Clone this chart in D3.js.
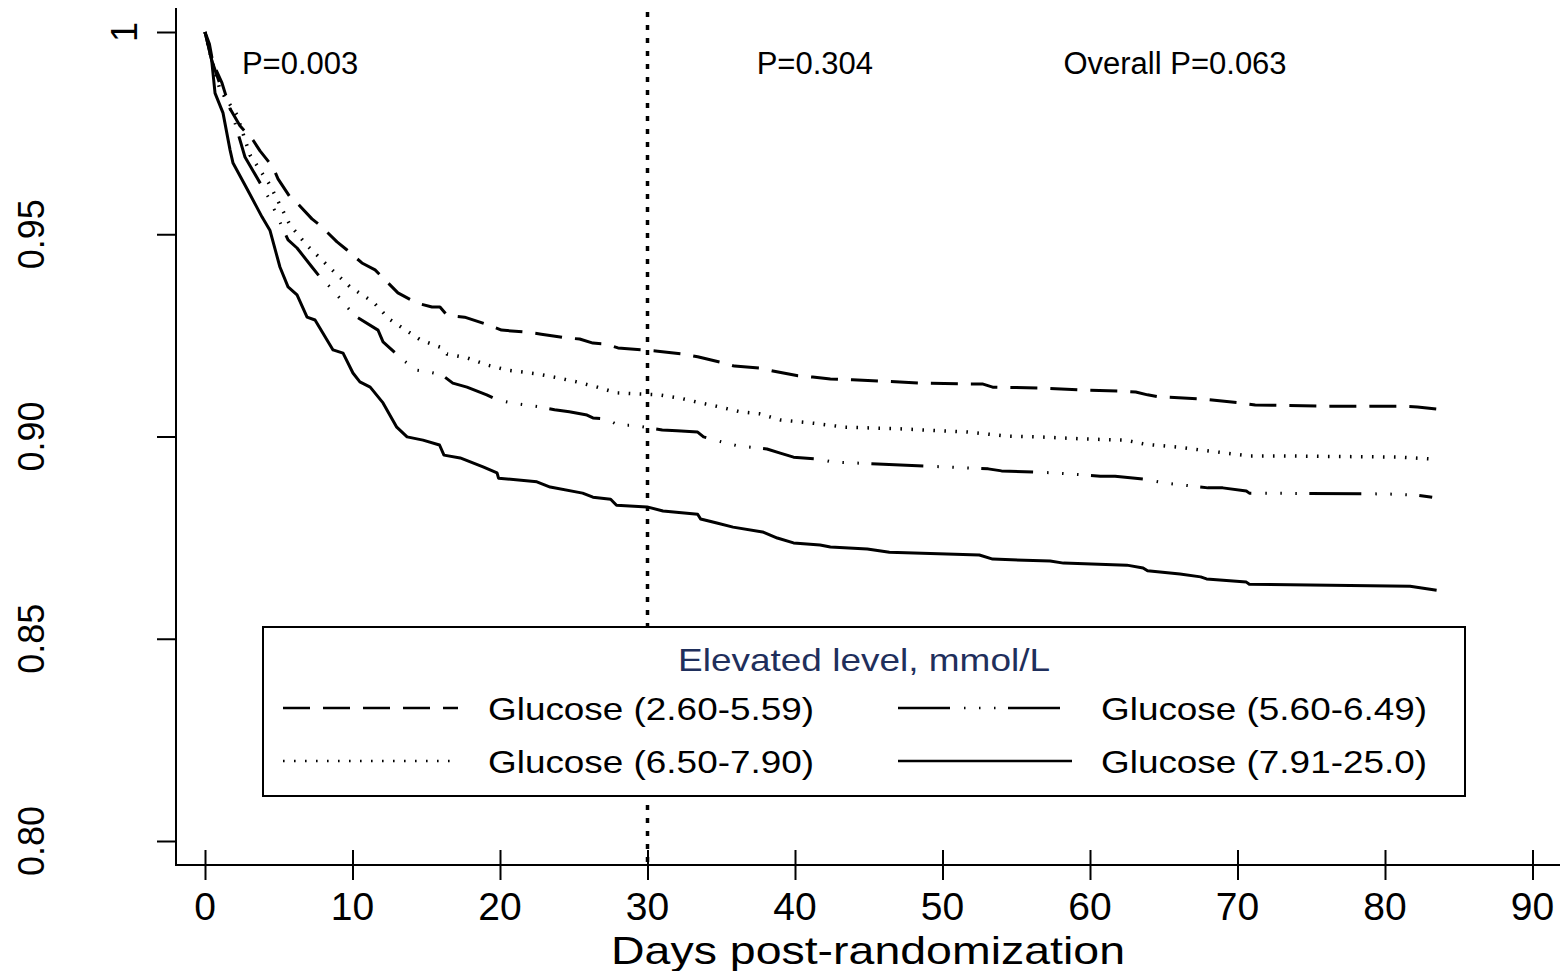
<!DOCTYPE html>
<html><head><meta charset="utf-8">
<script src="https://cdn.jsdelivr.net/npm/d3@7"></script>
<style>
html,body{margin:0;padding:0;background:#fff;}
text{font-family:"Liberation Sans",Arial,Helvetica,sans-serif;}
</style>
</head><body>
<svg id="chart" width="1566" height="971"></svg>
<script>
// ---- data ----
const xTicks = [0,10,20,30,40,50,60,70,80,90];
const yTicks = [0.80,0.85,0.90,0.95,1];
const yTickLabels = ["0.80","0.85","0.90","0.95","1"];
const pLabels = [{day:2.5,text:"P=0.003"},{day:37.4,text:"P=0.304"},{day:58.2,text:"Overall P=0.063"}];
const cutDay = 30;
const legendTitle = "Elevated level, mmol/L";
const seriesNames = ["Glucose (2.60-5.59)","Glucose (5.60-6.49)","Glucose (6.50-7.90)","Glucose (7.91-25.0)"];

// Glucose 2.60-5.59 (dashed)
const g1Days = [0,0.3,0.54,1.15,1.7,2.37,3.25,3.73,4.61,4.95,5.76,6.3,7.25,7.93,8.95,9.63,10.64,11.53,12.4,13.08,14.37,15.39,15.93,16.4,17.6,19.2,20.1,21.8,22.8,24.4,25.4,26.3,27.1,28.0,29.7,30.7,32.4,33.4,34.9,35.9,37.6,38.5,40.2,41.2,42.4,43.9,45.8,48.5,51.2,52.7,53.4,56.7,59.5,62.2,63.1,63.9,64.7,67.5,70.2,71.2,75.6,81.1,82.2,83.5];
const g1Surv = [1,0.997,0.9923,0.9874,0.981,0.9768,0.9733,0.9706,0.9666,0.9637,0.9592,0.9575,0.9538,0.9518,0.9481,0.9461,0.9429,0.9412,0.938,0.9355,0.933,0.932,0.932,0.930,0.9295,0.9276,0.9263,0.9258,0.9253,0.9244,0.9241,0.9231,0.9229,0.9219,0.9214,0.9211,0.9204,0.9197,0.9184,0.9174,0.9169,0.9162,0.915,0.9147,0.9142,0.914,0.9137,0.9132,0.913,0.913,0.9122,0.912,0.9115,0.9112,0.911,0.9103,0.9098,0.9093,0.9083,0.9078,0.9075,0.9075,0.9073,0.9068];

// Glucose 5.60-6.49 (dash-dot)
const g2Days = [0,0.45,1.22,1.83,2.71,4.4,5.63,6.24,7.25,7.8,8.68,9.63,10.3,11.73,12.07,13.42,14.37,15.25,16.07,16.8,17.76,19.1,19.86,20.8,22.7,23.7,24.7,25.9,26.3,27.25,28.0,29.0,31.0,32.0,33.4,33.8,35.1,36.1,38.1,39.0,39.9,41.7,42.5,45.6,50.0,53.1,54.0,57.6,60.7,61.7,63.6,65.1,68.0,69.0,70.6,70.8,80.1,82.2,83.2];
const g2Surv = [1,0.9931,0.9849,0.98,0.9691,0.9585,0.9486,0.9466,0.9419,0.9394,0.9362,0.932,0.9295,0.9263,0.9234,0.9189,0.9164,0.9159,0.9152,0.9132,0.9122,0.9103,0.909,0.9083,0.9073,0.9066,0.9061,0.9053,0.9046,0.9043,0.9028,0.9028,0.9016,0.9014,0.9011,0.8999,0.8986,0.8977,0.8969,0.8959,0.8949,0.8944,0.8937,0.8932,0.8925,0.892,0.8915,0.891,0.8902,0.8902,0.8895,0.8885,0.8873,0.8873,0.8865,0.886,0.8858,0.8855,0.885];

// Glucose 6.50-7.90 (dotted)
const g3Days = [0,0.45,1.02,2.17,3.05,4.4,5.76,6.9,8.47,9.83,11.39,12.5,14.6,15.93,16.4,17.8,19.1,20.5,22.5,23.9,25.2,26.6,27.9,29.5,30.8,32.2,33.6,34.9,36.3,37.6,39.0,41.2,43.4,47.1,51.7,54.4,56.6,59.5,62.4,63.7,65.9,68.1,70.8,73.1,81.0,83.3];
const g3Surv = [1,0.9931,0.9857,0.9795,0.9696,0.9622,0.9523,0.9473,0.9417,0.937,0.9333,0.929,0.9239,0.9221,0.9204,0.9194,0.9177,0.9164,0.9155,0.9145,0.9135,0.9122,0.9108,0.9105,0.9103,0.9095,0.9083,0.9073,0.9061,0.9056,0.9041,0.9033,0.9023,0.9019,0.9011,0.9001,0.8999,0.8994,0.8991,0.8981,0.8974,0.8964,0.8952,0.8952,0.8949,0.8944];

// Glucose 7.91-25.0 (solid)
const g4Days = [0,0.45,0.68,1.22,1.7,1.9,2.9,3.86,4.4,5.08,5.63,6.24,6.92,7.46,8.68,9.36,10.03,10.5,11.2,12.07,13.0,13.7,14.78,15.9,16.2,17.3,18.85,19.8,19.9,22.5,23.4,25.6,26.3,27.5,27.9,29.97,31.05,33.4,33.6,34.7,35.8,37.8,38.8,39.9,41.7,42.4,44.9,46.4,52.5,53.4,57.3,58.2,62.5,63.6,63.9,66.1,67.5,67.9,70.6,70.8,81.7,83.5];
const g4Surv = [1,0.9931,0.9849,0.980,0.9708,0.9676,0.9609,0.9543,0.951,0.9419,0.937,0.935,0.9295,0.9288,0.9214,0.9206,0.9157,0.9135,0.9122,0.9083,0.9023,0.8999,0.8991,0.8979,0.8954,0.8947,0.8925,0.891,0.8897,0.8888,0.8875,0.886,0.885,0.8845,0.883,0.8826,0.8816,0.8808,0.8796,0.8786,0.8776,0.8764,0.8749,0.8737,0.8732,0.8727,0.8722,0.8714,0.8707,0.8697,0.8692,0.8687,0.8682,0.8675,0.8668,0.866,0.8653,0.8648,0.864,0.8635,0.863,0.862];

// ---- styles ----
const styles = [
  {dash:"27,13", width:3},
  {dash:"52,14,1.5,13.5,1.5,13.5,1.5,12.5", width:3},
  {dash:"1.6,9.4", width:3.5},
  {dash:null, width:3}
];

const series = [
  {name:seriesNames[0], days:g1Days, surv:g1Surv, st:styles[0]},
  {name:seriesNames[1], days:g2Days, surv:g2Surv, st:styles[1]},
  {name:seriesNames[2], days:g3Days, surv:g3Surv, st:styles[2]},
  {name:seriesNames[3], days:g4Days, surv:g4Surv, st:styles[3]}
];

const svg = d3.select("#chart");
const x = d3.scaleLinear().domain([0,90]).range([205,1532.5]);
const y = d3.scaleLinear().domain([0.80,1]).range([841,32]);
const axisX0 = 176, axisY0 = 865;

// axis lines
svg.append("line").attr("x1",axisX0).attr("x2",axisX0).attr("y1",8).attr("y2",axisY0+1)
  .attr("stroke","#000").attr("stroke-width",2);
svg.append("line").attr("x1",axisX0-1).attr("x2",1560).attr("y1",axisY0).attr("y2",axisY0)
  .attr("stroke","#000").attr("stroke-width",2);

// y axis ticks
const gy = svg.append("g").attr("transform",`translate(${axisX0},0)`)
  .call(d3.axisLeft(y).tickValues(yTicks).tickSize(19).tickFormat(""));
gy.select(".domain").remove();
gy.selectAll(".tick line").attr("stroke","#000").attr("stroke-width",2);
// y tick labels (rotated)
yTicks.forEach((v,i)=>{
  const bx = (v===1) ? 137 : 44;
  svg.append("text")
    .attr("transform",`translate(${bx},${y(v)}) rotate(-90)`)
    .attr("text-anchor","middle")
    .attr("font-size",36).attr("fill","#000")
    .text(yTickLabels[i]);
});

// x axis ticks (crossing)
const gx = svg.append("g").attr("transform",`translate(0,${axisY0-15})`)
  .call(d3.axisBottom(x).tickValues(xTicks).tickSize(30).tickFormat(""));
gx.select(".domain").remove();
gx.selectAll(".tick line").attr("stroke","#000").attr("stroke-width",2);
svg.append("g").selectAll("text").data(xTicks).join("text")
  .attr("x",d=>x(d)).attr("y",920).attr("text-anchor","middle")
  .attr("font-size",39).attr("fill","#000").text(d=>d);

// axis title
svg.append("text").attr("x",611).attr("y",964)
  .attr("font-size",39).attr("fill","#000")
  .attr("textLength",514).attr("lengthAdjust","spacingAndGlyphs")
  .text("Days post-randomization");

// vertical cut line
svg.append("line").attr("x1",x(cutDay)).attr("x2",x(cutDay)).attr("y1",12).attr("y2",axisY0)
  .attr("stroke","#000").attr("stroke-width",3.5).attr("stroke-dasharray","5,8");

// P labels
svg.append("g").selectAll("text").data(pLabels).join("text")
  .attr("x",d=>x(d.day)).attr("y",74).attr("font-size",31).attr("fill","#000").text(d=>d.text);

// curves
const line = d3.line().x(d=>x(d[0])).y(d=>y(d[1])).curve(d3.curveLinear);
series.forEach(s=>{
  const pts = s.days.map((d,i)=>[d,s.surv[i]]);
  svg.append("path").attr("d",line(pts)).attr("fill","none")
    .attr("stroke","#000").attr("stroke-width",s.st.width)
    .attr("stroke-linejoin","round")
    .attr("stroke-dasharray",s.st.dash);
});

// legend
const lg = svg.append("g");
lg.append("rect").attr("x",263).attr("y",627).attr("width",1202).attr("height",169)
  .attr("fill","#fff").attr("stroke","#000").attr("stroke-width",2);
lg.append("text").attr("x",678).attr("y",671)
  .attr("font-size",32).attr("fill","#1f2f5c")
  .attr("textLength",372).attr("lengthAdjust","spacingAndGlyphs")
  .text(legendTitle);
const legPos = [
  {x1:283,x2:458,ty:708,tx:488},
  {x1:898,x2:1072,ty:708,tx:1101},
  {x1:283,x2:458,ty:761,tx:488},
  {x1:898,x2:1072,ty:761,tx:1101}
];
series.forEach((s,i)=>{
  const p = legPos[i];
  lg.append("line").attr("x1",p.x1).attr("x2",p.x2).attr("y1",p.ty).attr("y2",p.ty)
    .attr("stroke","#000").attr("stroke-width",2.5).attr("stroke-dasharray",s.st.dash);
  lg.append("text").attr("x",p.tx).attr("y",p.ty+12).attr("font-size",32).attr("fill","#000")
    .attr("textLength",326).attr("lengthAdjust","spacingAndGlyphs")
    .text(s.name);
});
</script>
</body></html>
